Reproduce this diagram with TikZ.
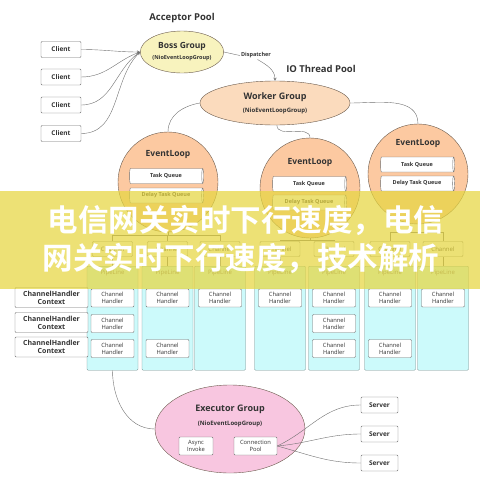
\documentclass[tikz,border=0pt]{standalone}
\usepackage{fontspec}
\setmainfont{Open Sans}
\newfontfamily\cjk{Noto Sans CJK SC}[BoldFont={Noto Sans CJK SC Bold}]
\usepackage{tikz}
\usetikzlibrary{shapes.geometric}

\definecolor{linegray}{HTML}{707070}
\definecolor{groupline}{HTML}{6A5A4C}
\definecolor{txt}{HTML}{333333}
\definecolor{bossfill}{HTML}{F8F3BE}
\definecolor{workerfill}{HTML}{FBDBBD}
\definecolor{loopfill}{HTML}{FCC9A1}
\definecolor{pipefill}{HTML}{CCFAFB}
\definecolor{pipedraw}{HTML}{6F8C8C}
\definecolor{execfill}{HTML}{F8C6E0}
\definecolor{bannerfill}{HTML}{E6D640}

\begin{document}
\begin{tikzpicture}[x=1pt, y=-1pt, >=stealth,
  box/.style={draw=linegray, fill=white, rounded corners=1pt, inner sep=0pt, text=txt, align=center},
  client/.style={box, minimum width=40pt, minimum height=16pt, font=\fontsize{6.5}{7}\selectfont\bfseries},
  chan/.style={box, minimum width=40pt, minimum height=15pt, font=\fontsize{6}{7}\selectfont},
  handler/.style={box, minimum width=43pt, minimum height=18pt, font=\fontsize{5.8}{7}\selectfont},
  context/.style={box, minimum width=73pt, minimum height=20pt, font=\fontsize{7}{8}\selectfont\bfseries},
  group/.style={ellipse, draw=groupline, inner sep=0pt, align=center, text=txt},
  loop/.style={circle, draw=groupline, fill=loopfill, minimum size=100pt, inner sep=0pt},
  looptitle/.style={text=txt, font=\fontsize{8.5}{10}\selectfont\bfseries},
  queue/.style={cylinder, draw=linegray, fill=white, minimum width=15pt, minimum height=74pt, shape aspect=0.35, inner sep=0pt, text=txt, font=\fontsize{5.5}{6}\selectfont\bfseries},
  pipe/.style={draw=pipedraw, fill=pipefill, rounded corners=1pt, minimum width=51pt, minimum height=104pt, anchor=north, inner sep=0pt},
  pipelabel/.style={text=linegray, font=\fontsize{6}{7}\selectfont},
  conn/.style={draw=linegray},
  title/.style={text=txt, font=\fontsize{9.5}{11}\selectfont\bfseries},
  bannertext/.style={text=white, font=\cjk\bfseries\fontsize{30.5}{33}\selectfont}
]
  \useasboundingbox (0,0) rectangle (480,480);

  % Acceptor side
  \node[title] (accept) at (182,18) {Acceptor Pool};
  \node[group, fill=bossfill, minimum width=74pt, minimum height=42pt] (boss) at (182,52)
    {\fontsize{8.5}{10}\selectfont\bfseries Boss Group\\[-1pt]\fontsize{5.5}{7}\selectfont\bfseries (NioEventLoopGroup)};
  \foreach \i/\y/\a in {1/49.5/180, 2/77/200, 3/105/215, 4/133.5/225} {
    \node[client] (client\i) at (61,\y) {Client};
    \draw[conn, ->] (client\i.east) to[out=0, in=\a] (boss.west);
  }

  % Dispatcher
  \node[text=txt, inner sep=1pt, font=\fontsize{5.5}{6}\selectfont\bfseries] (disp) at (256,55.5) {Dispatcher};
  \draw[conn] (boss.east) -- (disp.west);

  % IO thread pool
  \node[title] (iopool) at (321,69) {IO Thread Pool};
  \node[group, fill=workerfill, minimum width=150pt, minimum height=44pt] (worker) at (275,103)
    {\fontsize{9}{10}\selectfont\bfseries Worker Group\\[1pt]\fontsize{6}{7}\selectfont\bfseries (NioEventLoopGroup)};
  \draw[conn, ->] (disp.290) to[out=-30, in=90] (worker.north);

  % EventLoops
  \node[loop] (loop1) at (168,182) {};
  \node[looptitle] (loop1t) at (168,154) {EventLoop};
  \node[queue] (task1) at (166,176) {Task Queue};
  \node[queue] (delay1) at (166,195.5) {Delay Task Queue};

  \node[loop] (loop2) at (310,188) {};
  \node[looptitle] (loop2t) at (310,162) {EventLoop};
  \node[queue] (task2) at (309,184) {Task Queue};
  \node[queue] (delay2) at (309,202.5) {Delay Task Queue};

  \node[loop] (loop3) at (418,174) {};
  \node[looptitle] (loop3t) at (418,143) {EventLoop};
  \node[queue] (task3) at (417,164.5) {Task Queue};
  \node[queue] (delay3) at (417,183.5) {Delay Task Queue};

  \draw[conn] (worker.west) to[out=190, in=90] (loop1.north);
  \draw[conn] (worker.-85) to[out=-90, in=90] (loop2.north);
  \draw[conn] (worker.east) to[out=0, in=90] (loop3.north);

  % Channels and pipelines
  \foreach \i/\x in {1/112.5, 2/167.5, 3/220, 4/280, 5/334, 6/390, 7/443} {
    \node[chan] (chan\i) at (\x,249) {Channel};
    \node[pipe] (pipe\i) at (\x,266) {};
    \node[pipelabel] (plabel\i) at (\x,273) {PipeLine};
    \draw[conn] (chan\i.south) -- (pipe\i.north);
  }
  \foreach \i in {1,2,3}
    \draw[conn] (loop1.south) -- ++(0,3) -| (chan\i.north);
  \foreach \i in {4,5}
    \draw[conn] (loop2.south) -- ++(0,1.5) -| (chan\i.north);
  \foreach \i in {6,7}
    \draw[conn] (loop3.south) -- ++(0,8) -| (chan\i.north);

  \foreach \n/\x/\y in {h11/112.5/298, h12/112.5/323.5, h13/112.5/348.5, h21/167.5/298, h23/167.5/348.5,
      h31/220/298, h41/280/298, h51/334/298, h52/334/323.5, h53/334/348.5, h61/390/298, h63/390/348.5, h71/443/298}
    \node[handler] (\n) at (\x,\y) {Channel\\Handler};

  \foreach \i/\y in {1/297.5, 2/322.5, 3/347}
    \node[context] (ctx\i) at (51.5,\y) {ChannelHandler\\Context};

  % Executor
  \node[group, fill=execfill, minimum width=150pt, minimum height=88pt] (exec) at (230,429) {};
  \node[text=txt, font=\fontsize{9}{10}\selectfont\bfseries] (execname) at (230,409) {Executor Group};
  \node[text=txt, font=\fontsize{6}{7}\selectfont\bfseries] (execsub) at (230,424) {(NioEventLoopGroup)};
  \node[box, minimum width=34pt, minimum height=18pt, font=\fontsize{5.8}{7}\selectfont] (async) at (196,446) {Async\\Invoke};
  \node[box, minimum width=43pt, minimum height=18pt, font=\fontsize{5.8}{7}\selectfont] (connpool) at (255.5,446) {Connection\\Pool};
  \draw[conn] (pipe1.south) to[out=-90, in=180] (exec.west);

  \foreach \i/\y/\a in {1/405/25, 2/434/5, 3/463/-15} {
    \node[client, minimum width=37pt] (server\i) at (379.5,\y) {Server};
    \draw[conn] (connpool.east) to[out=\a, in=180] (server\i.west);
  }

  % Banner
  \fill[bannerfill, opacity=0.72] (0,191) rectangle (480,289);
  \node[bannertext] (line1) at (246,220) {电信网关实时下行速度，电信};
  \node[bannertext] (line2) at (241,258) {网关实时下行速度，技术解析};
\end{tikzpicture}
\end{document}
